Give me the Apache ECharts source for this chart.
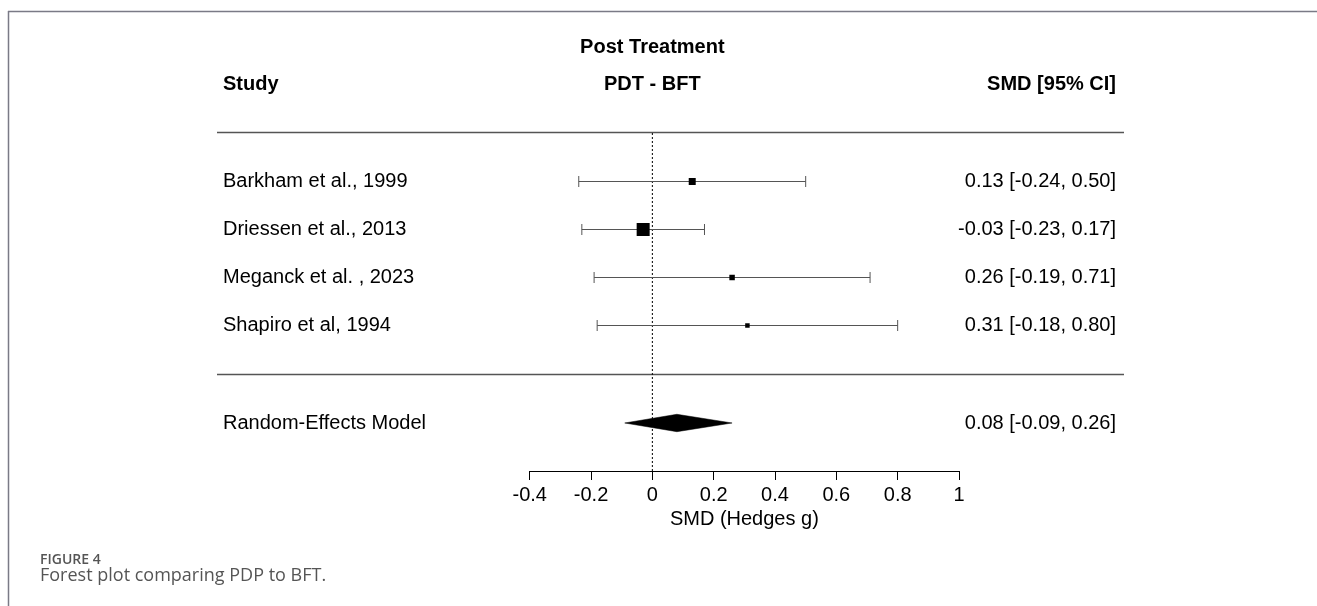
<!DOCTYPE html>
<html><head><meta charset="utf-8">
<script src="https://cdn.jsdelivr.net/npm/echarts@6/dist/echarts.min.js"></script>
<style>html,body{margin:0;padding:0;background:#fff}#c{width:1317px;height:606px}</style>
</head><body><div id="c"></div>
<script>
// ---- data ----
const studies = ['Barkham et al., 1999', 'Driessen et al., 2013', 'Meganck et al. , 2023', 'Shapiro et al, 1994'];
const smd = [0.13, -0.03, 0.26, 0.31];
const ciLow = [-0.24, -0.23, -0.19, -0.18];
const ciHigh = [0.50, 0.17, 0.71, 0.80];
const weights = [18.3, 63.1, 11.2, 7.5];
const modelLabel = ['Random-Effects Model'];
const modelEst = [0.08];
const modelLow = [-0.09];
const modelHigh = [0.26];
const headers = ['Post Treatment', 'Study', 'PDT - BFT', 'SMD [95% CI]'];
const axisName = 'SMD (Hedges g)';
const xMin = -0.4, xMax = 1, xStep = 0.2;
// row layout (in row units, top = 0)
const rowPos = [1, 2, 3, 4];
const sepRow = 5.03, modelRow = 6.04, rowMax = 7.04;

const FONT = '"Liberation Sans", Arial, Helvetica, sans-serif';
const fmt = v => v.toFixed(2);
const estText = (e, l, h) => `${fmt(e)} [${fmt(l)}, ${fmt(h)}]`;
const maxW = Math.max(...weights);
const LEFT_X = 223, RIGHT_X = 1116;

const chart = echarts.init(document.getElementById('c'), null, {renderer: 'canvas'});

const studyData = studies.map((s, i) => [smd[i], rowPos[i], ciLow[i], ciHigh[i], weights[i]]);
const modelData = modelEst.map((e, i) => [e, modelRow, modelLow[i], modelHigh[i]]);

function txt(x, y, text, align, bold) {
  return {type: 'text', x: x, y: y, style: {text: text, fontSize: 20, fontFamily: FONT,
    fontWeight: bold ? 'bold' : 'normal', fill: '#000', align: align, verticalAlign: 'middle'}};
}

chart.setOption({
  animation: false,
  backgroundColor: '#fff',
  grid: {left: 529.7, right: 358, top: 133, bottom: 135},
  xAxis: {
    type: 'value', min: xMin, max: xMax, interval: xStep, position: 'bottom',
    splitLine: {show: false},
    axisLine: {show: true, onZero: false, lineStyle: {color: '#000', width: 1}},
    axisTick: {show: true, length: 9, lineStyle: {color: '#000', width: 1}},
    axisLabel: {fontSize: 20, color: '#000', fontFamily: FONT, margin: 14, showMinLabel: true, showMaxLabel: true},
    name: axisName, nameLocation: 'middle', nameGap: 36,
    nameTextStyle: {fontSize: 20, color: '#000', fontFamily: FONT}
  },
  yAxis: {type: 'value', min: 0, max: rowMax, inverse: true, show: false},
  series: [
    {
      type: 'line', data: [[0, 0], [0, rowMax]], symbol: 'none', silent: true,
      lineStyle: {color: '#000', width: 1, type: [2, 2]}, z: 1
    },
    {
      type: 'custom', data: studyData, clip: false, z: 3,
      renderItem: function (params, api) {
        const i = params.dataIndex;
        const row = api.value(1);
        const pE = api.coord([api.value(0), row]);
        const pL = api.coord([api.value(2), row]);
        const pH = api.coord([api.value(3), row]);
        const y = Math.round(pE[1]) + 0.5;
        const s = 13 * Math.sqrt(api.value(4) / maxW);
        const cap = 5.5;
        return {type: 'group', children: [
          {type: 'line', shape: {x1: pL[0], y1: y, x2: pH[0], y2: y}, style: {stroke: '#555', lineWidth: 1}},
          {type: 'line', shape: {x1: pL[0], y1: y - cap, x2: pL[0], y2: y + cap}, style: {stroke: '#555', lineWidth: 1}},
          {type: 'line', shape: {x1: pH[0], y1: y - cap, x2: pH[0], y2: y + cap}, style: {stroke: '#555', lineWidth: 1}},
          {type: 'rect', shape: {x: pE[0] - s / 2, y: y - s / 2, width: s, height: s}, style: {fill: '#000'}},
          txt(LEFT_X, pE[1], studies[i], 'left', false),
          txt(RIGHT_X, pE[1], estText(smd[i], ciLow[i], ciHigh[i]), 'right', false)
        ]};
      }
    },
    {
      type: 'custom', data: modelData, clip: false, z: 3,
      renderItem: function (params, api) {
        const i = params.dataIndex;
        const row = api.value(1);
        const pE = api.coord([api.value(0), row]);
        const pL = api.coord([api.value(2), row]);
        const pH = api.coord([api.value(3), row]);
        const h = 8.7;
        return {type: 'group', children: [
          {type: 'polygon', shape: {points: [[pL[0], pE[1]], [pE[0], pE[1] - h], [pH[0], pE[1]], [pE[0], pE[1] + h]]},
            style: {fill: '#000', stroke: '#000', lineWidth: 0.5}},
          txt(LEFT_X, pE[1], modelLabel[i], 'left', false),
          txt(RIGHT_X, pE[1], estText(modelEst[i], modelLow[i], modelHigh[i]), 'right', false)
        ]};
      }
    }
  ]
});

// decorations: separators, headers, frame, caption
const yTop = chart.convertToPixel({gridIndex: 0}, [0, 0])[1];
const ySep = chart.convertToPixel({gridIndex: 0}, [0, sepRow])[1];
const xZero = chart.convertToPixel({gridIndex: 0}, [0, 0])[0];
const sepStyle = {stroke: '#555', lineWidth: 1.3};
chart.setOption({
  graphic: [
    {type: 'line', shape: {x1: 217, y1: Math.round(yTop) - 0.5, x2: 1124, y2: Math.round(yTop) - 0.5}, style: sepStyle},
    {type: 'line', shape: {x1: 217, y1: Math.round(ySep) + 0.5, x2: 1124, y2: Math.round(ySep) + 0.5}, style: sepStyle},
    txt(xZero, 47, headers[0], 'center', true),
    txt(LEFT_X, 84, headers[1], 'left', true),
    txt(xZero, 84, headers[2], 'center', true),
    txt(RIGHT_X, 84, headers[3], 'right', true),
    {type: 'line', shape: {x1: 8, y1: 11.5, x2: 1317, y2: 11.5}, style: {stroke: '#7a7a86', lineWidth: 1.5}},
    {type: 'line', shape: {x1: 8.5, y1: 11, x2: 8.5, y2: 606}, style: {stroke: '#7a7a86', lineWidth: 1.5}},
    {type: 'text', x: 40, y: 560, style: {text: 'FIGURE 4', fontSize: 14, fontWeight: 600, fontFamily: '"Open Sans", sans-serif', fill: '#555', align: 'left', verticalAlign: 'middle'}},
    {type: 'text', x: 40, y: 576, style: {text: 'Forest plot comparing PDP to BFT.', fontSize: 18, fontFamily: '"Open Sans", sans-serif', fill: '#555', align: 'left', verticalAlign: 'middle'}}
  ]
});
</script>
</body></html>
